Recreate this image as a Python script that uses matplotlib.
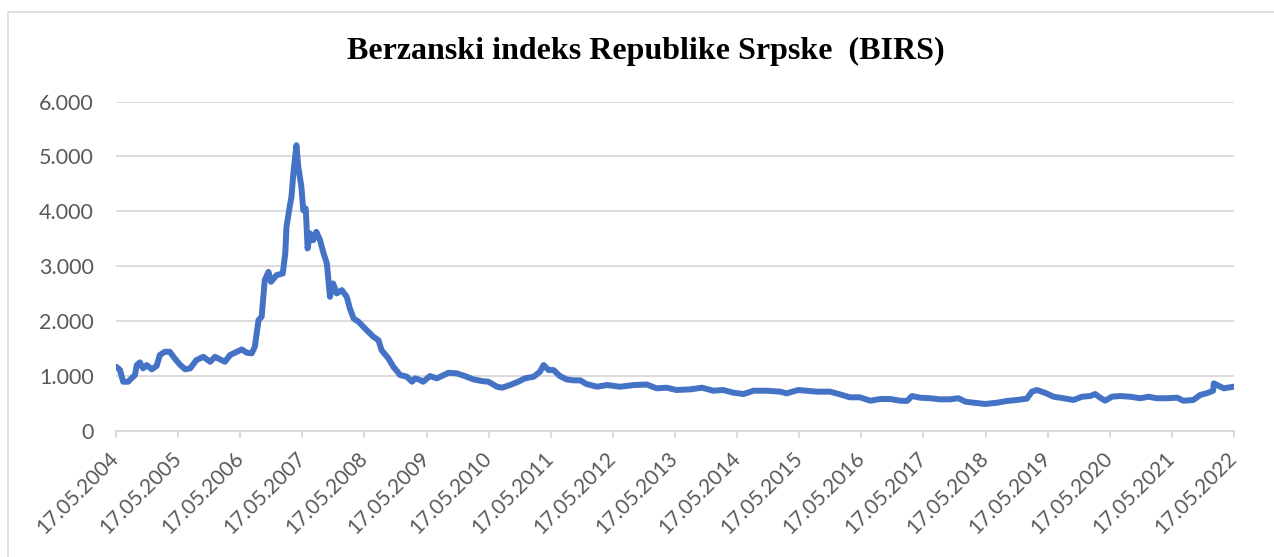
import matplotlib
matplotlib.use("Agg")
import matplotlib.pyplot as plt
from matplotlib.patches import Rectangle
from matplotlib.ticker import FuncFormatter

# Decimal years (17.05.2004 ~ 2004.375) and index values
t_years = [
    2004.38, 2004.44, 2004.49, 2004.57, 2004.68, 2004.71, 2004.76, 2004.81, 2004.87, 2004.95,
    2005.03, 2005.08, 2005.16, 2005.24, 2005.32, 2005.41, 2005.49, 2005.57, 2005.67, 2005.78,
    2005.89, 2005.97, 2006.05, 2006.13, 2006.21, 2006.32, 2006.40, 2006.48, 2006.56, 2006.61,
    2006.67, 2006.72, 2006.77, 2006.83, 2006.87, 2006.96, 2007.06, 2007.10, 2007.12, 2007.18,
    2007.20, 2007.23, 2007.28, 2007.31, 2007.36, 2007.39, 2007.43, 2007.46, 2007.50, 2007.55,
    2007.60, 2007.66, 2007.71, 2007.77, 2007.82, 2007.87, 2007.93, 2008.01, 2008.09, 2008.14,
    2008.20, 2008.28, 2008.41, 2008.52, 2008.60, 2008.65, 2008.76, 2008.84, 2008.95, 2009.06,
    2009.14, 2009.19, 2009.27, 2009.32, 2009.43, 2009.54, 2009.62, 2009.73, 2009.86, 2009.99,
    2010.13, 2010.26, 2010.37, 2010.51, 2010.59, 2010.72, 2010.85, 2010.96, 2011.10, 2011.20,
    2011.26, 2011.34, 2011.42, 2011.52, 2011.63, 2011.74, 2011.85, 2011.95, 2012.12, 2012.28,
    2012.49, 2012.71, 2012.92, 2013.08, 2013.24, 2013.40, 2013.62, 2013.81, 2013.99, 2014.15,
    2014.32, 2014.48, 2014.64, 2014.85, 2015.07, 2015.17, 2015.36, 2015.66, 2015.87, 2016.03,
    2016.19, 2016.35, 2016.52, 2016.68, 2016.84, 2017.00, 2017.11, 2017.19, 2017.32, 2017.48,
    2017.64, 2017.80, 2017.94, 2018.05, 2018.18, 2018.37, 2018.56, 2018.72, 2018.88, 2019.04,
    2019.12, 2019.20, 2019.33, 2019.47, 2019.63, 2019.79, 2019.93, 2020.06, 2020.14, 2020.22,
    2020.30, 2020.41, 2020.54, 2020.70, 2020.87, 2021.00, 2021.13, 2021.29, 2021.46, 2021.56,
    2021.72, 2021.83, 2021.96, 2022.04, 2022.05, 2022.13, 2022.21, 2022.37,
]
birs = [
    1164, 1104, 891, 891, 1013, 1195, 1244, 1135, 1195, 1117,
    1180, 1377, 1437, 1437, 1317, 1195, 1117, 1135, 1286, 1346,
    1255, 1346, 1298, 1255, 1377, 1437, 1480, 1420, 1408, 1528,
    2015, 2075, 2743, 2894, 2712, 2834, 2865, 3230, 3714, 4140,
    4261, 4686, 5202, 4807, 4443, 4018, 4049, 3321, 3594, 3472,
    3623, 3472, 3259, 3047, 2439, 2683, 2501, 2561, 2439, 2228,
    2045, 1984, 1832, 1710, 1650, 1468, 1317, 1164, 1013, 982,
    891, 953, 922, 891, 995, 953, 995, 1055, 1044, 995,
    934, 904, 891, 800, 782, 831, 891, 953, 982, 1073,
    1195, 1104, 1104, 995, 934, 916, 916, 849, 800, 831,
    800, 831, 840, 771, 782, 740, 752, 782, 727, 740,
    690, 667, 727, 727, 710, 679, 740, 710, 710, 661,
    607, 607, 545, 576, 576, 545, 540, 630, 600, 590,
    570, 570, 590, 527, 509, 485, 509, 540, 558, 582,
    709, 740, 690, 618, 590, 558, 618, 630, 667, 600,
    545, 618, 630, 618, 590, 618, 590, 590, 600, 545,
    558, 649, 690, 727, 861, 815, 771, 800,
]
tick_years = list(range(2004, 2023))
tick_labels = [f"17.05.{y}" for y in tick_years]
y_ticks = [0, 1000, 2000, 3000, 4000, 5000, 6000]
title = "Berzanski indeks Republike Srpske  (BIRS)"

W, H = 1274, 557
fig = plt.figure(figsize=(W / 100, H / 100), dpi=100)
fig.patches.append(Rectangle((8 / W, -0.1), 1.2, 1 - 12 / H + 0.1, transform=fig.transFigure,
                             fill=False, edgecolor="#D9D9D9", linewidth=1.2))

ax = fig.add_axes([116 / W, 1 - 430.6 / H, (1234 - 116) / W, (430.6 - 101.5) / H])
ax.plot(t_years, birs, color="#4472C4", linewidth=4.3, solid_joinstyle="round", solid_capstyle="round")

ax.set_xlim(2004.375, 2022.375)
ax.set_ylim(0, 6000)
ax.set_yticks(y_ticks)
ax.yaxis.set_major_formatter(FuncFormatter(lambda v, p: f"{int(v):,}".replace(",", ".")))
ax.set_xticks([y + 0.375 for y in tick_years])
ax.set_xticklabels(tick_labels, rotation=45, ha="right", rotation_mode="anchor", va="center")

for s in ["left", "right", "top"]:
    ax.spines[s].set_visible(False)
ax.spines["bottom"].set_color("#D9D9D9")
ax.spines["bottom"].set_linewidth(1.3)
ax.grid(axis="y", color="#D9D9D9", linewidth=1.3)
ax.set_axisbelow(True)
ax.tick_params(axis="y", length=0, pad=16, labelsize=15.5, labelcolor="#595959")
ax.tick_params(axis="x", length=5, width=1.3, color="#D9D9D9", pad=13, labelsize=15, labelcolor="#595959")
for lab in ax.get_xticklabels() + ax.get_yticklabels():
    lab.set_fontfamily("Lato")

fig.text(0.5 * (348 + 944) / W, 1 - 51 / H, title, ha="center", va="center",
         fontfamily="Liberation Serif", fontweight="bold", fontsize=23, color="black")

fig.savefig("out.png", dpi=100)
